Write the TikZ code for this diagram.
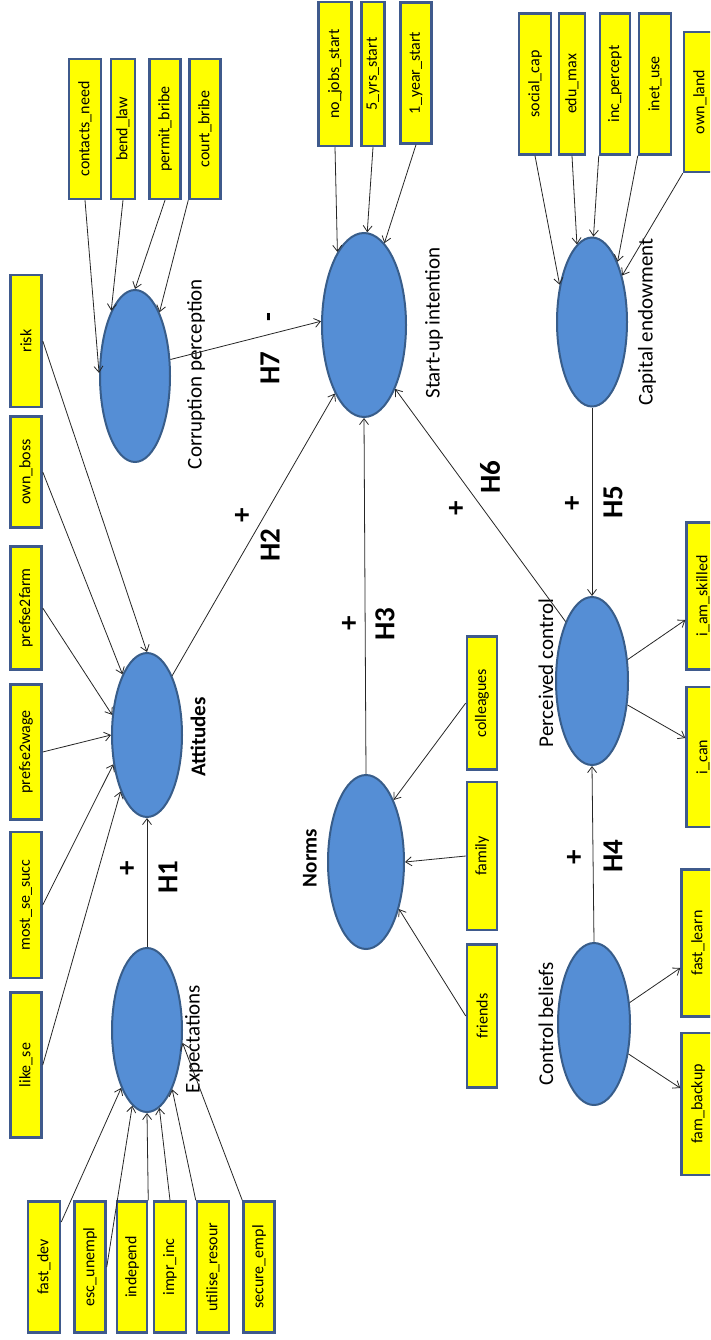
\documentclass[tikz,border=0pt]{standalone}
\usepackage{fontspec}
\setmainfont{Carlito}
\usetikzlibrary{arrows.meta, shapes, positioning, calc}
\definecolor{latentblue}{RGB}{85,142,213}
\definecolor{latentedge}{RGB}{56,93,138}
\definecolor{itemyellow}{RGB}{255,255,0}
\definecolor{itemedge}{RGB}{63,90,140}
\tikzset{latentnode/.style={ellipse, fill=latentblue, draw=latentedge, line width=2pt, minimum width=70pt, minimum height=166pt, inner sep=0pt},
itemnode/.style={rectangle, fill=itemyellow, draw=itemedge, line width=2.5pt, rotate=90, minimum width=140pt, minimum height=31pt, inner sep=0pt, font=\fontsize{16}{18}\selectfont},
latentlabel/.style={rotate=90, inner sep=0pt, font=\fontsize{21}{24}\selectfont},
hypolabel/.style={rotate=90, inner sep=0pt, font=\fontsize{29}{32}\selectfont\bfseries},
linkarrow/.style={-{Straight Barb[length=6pt,width=9pt]}, line width=0.8pt, draw=black!85}}

\begin{document}
\begin{tikzpicture}[x=1pt, y=-1pt]
                \useasboundingbox (0,0) rectangle (710,1340);
                \clip (0,0) rectangle (710,1340);

                % Latent constructs
                \node[latentnode, minimum height=172pt] (corr) at (135,376) {};
                \node[latentnode, minimum width=84pt, minimum height=184pt] (intent) at (364,325) {};
                \node[latentnode, minimum height=169pt] (capital) at (592,322) {};
                \node[latentnode, minimum height=164pt] (att) at (147,735) {};
                \node[latentnode, minimum width=76pt, minimum height=174pt] (norms) at (366,862) {};
                \node[latentnode, minimum width=72pt, minimum height=168pt] (perc) at (592,681) {};
                \node[latentnode, minimum height=164pt] (expect) at (147,1030) {};
                \node[latentnode, minimum width=72pt, minimum height=162pt] (cbel) at (594,1024) {};

                \node[latentlabel] (corrlab) at (196,374) {Corruption perception};
                \node[latentlabel] (intentlab) at (434,323) {Start-up intention};
                \node[latentlabel] (capitallab) at (647,322) {Capital endowment};
                \node[latentlabel, font=\fontsize{21}{24}\selectfont\bfseries] (attlab) at (198,737) {Attitudes};
                \node[latentlabel, font=\fontsize{21}{24}\selectfont\bfseries] (normslab) at (310,858) {Norms};
                \node[latentlabel] (perclab) at (546,673) {Perceived control};
                \node[latentlabel] (expectlab) at (194,1039) {Expectations};
                \node[latentlabel] (cbellab) at (546,1024) {Control beliefs};

                % Indicators
                \node[itemnode, minimum height=32pt] (contacts) at (85,129) {contacts\_need};
                \node[itemnode, minimum height=24pt] (bend) at (123,129) {bend\_law};
                \node[itemnode] (permit) at (165,129) {permit\_bribe};
                \node[itemnode] (court) at (205,129) {court\_bribe};

                \node[itemnode, minimum width=144pt, minimum height=33pt] (nojobs) at (335,74) {no\_jobs\_start};
                \node[itemnode, minimum width=144pt, minimum height=23pt] (fiveyrs) at (373,74) {5\_yrs\_start};
                \node[itemnode, minimum width=141pt] (oneyear) at (416,73) {1\_year\_start};

                \node[itemnode, minimum width=141pt, minimum height=32pt] (social) at (535,84) {social\_cap};
                \node[itemnode, minimum width=141pt, minimum height=26pt] (edu) at (572,84) {edu\_max};
                \node[itemnode, minimum width=141pt, minimum height=30pt] (incperc) at (615,84) {inc\_percept};
                \node[itemnode, minimum width=141pt, minimum height=32pt] (inet) at (655,84) {inet\_use};
                \node[itemnode, minimum width=140pt, minimum height=32pt] (ownland) at (700,102) {own\_land};

                \node[itemnode, minimum width=132pt] (risk) at (26,341) {risk};
                \node[itemnode, minimum width=111pt] (ownboss) at (26,472) {own\_boss};
                \node[itemnode, minimum width=123pt] (farm) at (26,608) {prefse2farm};
                \node[itemnode, minimum width=135pt] (wage) at (26,752) {prefse2wage};
                \node[itemnode, minimum width=146pt] (mostsucc) at (26,905) {most\_se\_succ};
                \node[itemnode, minimum width=145pt] (likese) at (26,1065) {like\_se};

                \node[itemnode, minimum width=131pt, minimum height=32pt] (fastdev) at (44,1267) {fast\_dev};
                \node[itemnode, minimum width=131pt] (escun) at (90,1267) {esc\_unempl};
                \node[itemnode, minimum width=131pt, minimum height=30pt] (indep) at (132,1267) {independ};
                \node[itemnode, minimum width=131pt, minimum height=32pt] (imprinc) at (170,1267) {impr\_inc};
                \node[itemnode, minimum width=131pt, minimum height=32pt] (utilise) at (213,1267) {utilise\_resour};
                \node[itemnode, minimum width=131pt] (secure) at (259,1267) {secure\_empl};

                \node[itemnode, minimum width=133pt, minimum height=30pt] (colleagues) at (482,703) {colleagues};
                \node[itemnode, minimum width=148pt, minimum height=30pt] (family) at (482,856) {family};
                \node[itemnode, minimum width=143pt, minimum height=30pt] (friends) at (482,1016) {friends};

                \node[itemnode, minimum width=147pt, minimum height=33pt] (skilled) at (703,596) {i\_am\_skilled};
                \node[itemnode, minimum width=140pt, minimum height=33pt] (ican) at (703,757) {i\_can};
                \node[itemnode, minimum width=147pt, minimum height=33pt] (fastlearn) at (698,943) {fast\_learn};
                \node[itemnode, minimum width=142pt, minimum height=33pt] (fambackup) at (698,1104) {fam\_backup};

                % Structural paths
                \draw[linkarrow] (corr.25) -- (intent.175);
                \draw[linkarrow] (att.67) -- (intent.247);
                \draw[linkarrow] (expect.north) -- (att.south);
                \draw[linkarrow] (norms.north) -- (intent.south);
                \draw[linkarrow] (perc.114) -- (intent.296);
                \draw[linkarrow] (capital.south) -- (perc.north);
                \draw[linkarrow] (cbel.north) -- (perc.south);

                % Measurement paths
                \draw[linkarrow] (contacts.west) -- (corr.175);
                \draw[linkarrow] (bend.west) -- (corr.110);
                \draw[linkarrow] (permit.west) -- (corr.90);
                \draw[linkarrow] (court.north west) -- (corr.69);

                \draw[linkarrow] (nojobs.west) -- (intent.110);
                \draw[linkarrow] (fiveyrs.west) -- (intent.88);
                \draw[linkarrow] (oneyear.west) -- (intent.76);

                \draw[linkarrow] (social.west) -- (capital.131);
                \draw[linkarrow] (edu.west) -- (capital.101);
                \draw[linkarrow] (incperc.north west) -- (capital.89);
                \draw[linkarrow] (inet.north west) -- (capital.67);
                \draw[linkarrow] (ownland.north west) -- (capital.57);

                \draw[linkarrow] (risk.south) -- (att.north);
                \draw[linkarrow] (ownboss.south) -- (att.112);
                \draw[linkarrow] (farm.south) -- (att.150);
                \draw[linkarrow] (wage.south) -- (att.180);
                \draw[linkarrow] (mostsucc.south) -- (att.221);
                \draw[linkarrow] (likese.south) -- (att.245);

                \draw[linkarrow] ($(fastdev.south)+(0,-45)$) -- (expect.246);
                \draw[linkarrow] (escun.south) -- (expect.259);
                \draw[linkarrow] (indep.south east) -- (expect.270);
                \draw[linkarrow] (imprinc.east) -- (expect.279);
                \draw[linkarrow] (utilise.north east) -- (expect.293);
                \draw[linkarrow] (secure.north east) -- (expect.340);

                \draw[linkarrow] (colleagues.north) -- (norms.66);
                \draw[linkarrow] (family.north) -- (norms.0);
                \draw[linkarrow] (friends.north) -- (norms.305);

                \draw[linkarrow] (perc.31) -- ($(skilled.north)+(0,24)$);
                \draw[linkarrow] (perc.326) -- ($(ican.north)+(0,-19)$);
                \draw[linkarrow] (cbel.31) -- ($(fastlearn.north)+(0,25)$);
                \draw[linkarrow] (cbel.319) -- ($(fambackup.north)+(0,-16)$);

                % Hypotheses
                \node[hypolabel] (h1) at (168,877) {H1};
                \node[hypolabel] (h1sign) at (128,868) {+};
                \node[hypolabel] (h2) at (270,545) {H2};
                \node[hypolabel] (h2sign) at (243,515) {+};
                \node[hypolabel] (h3) at (385,624) {H3};
                \node[hypolabel] (h3sign) at (350,623) {+};
                \node[hypolabel] (h4) at (613,856) {H4};
                \node[hypolabel] (h4sign) at (575,857) {+};
                \node[hypolabel] (h5) at (613,502) {H5};
                \node[hypolabel] (h5sign) at (573,503) {+};
                \node[hypolabel] (h6) at (490,477) {H6};
                \node[hypolabel] (h6sign) at (457,508) {+};
                \node[hypolabel] (h7) at (270,368) {H7};
                \node[hypolabel] (h7sign) at (272,317) {-};
\end{tikzpicture}
\end{document}
